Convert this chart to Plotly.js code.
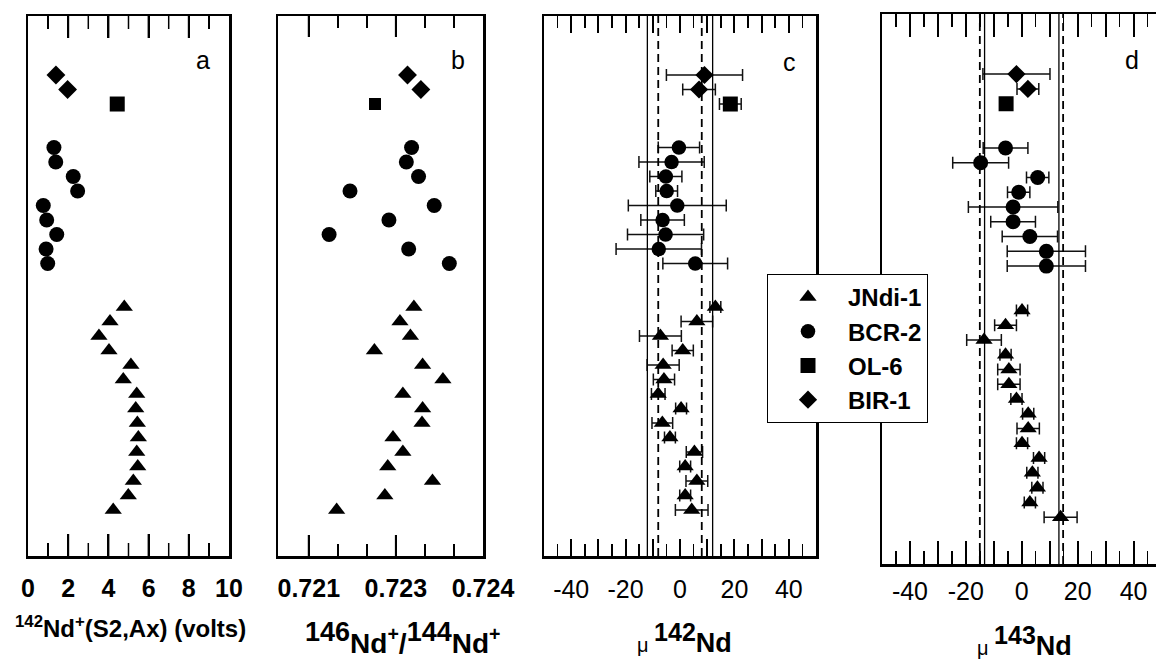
<!DOCTYPE html>
<html><head><meta charset="utf-8">
<script src="https://cdn.plot.ly/plotly-3.0.1.min.js"></script>
<style>html,body{margin:0;padding:0;overflow:hidden;background:#fff;}#chart{width:1164px;height:665px;}</style>
</head><body><div id="chart"></div>
<script>
// ---- data ----
const sampleNames = ['JNdi-1', 'BCR-2', 'OL-6', 'BIR-1'];
const rowsJN  = [16,17,18,19,20,21,22,23,24,25,26,27,28,29,30];
const rowsBCR = [5,6,7,8,9,10,11,12,13];
const rowsOL  = [2];
const rowsBIR = [0,1];

// panel a: 142Nd+ (S2,Ax) volts
const aJN  = [4.79,4.08,3.53,4.03,5.12,4.74,5.41,5.36,5.44,5.49,5.41,5.46,5.24,4.99,4.24];
const aBCR = [1.29,1.38,2.25,2.47,0.76,0.93,1.43,0.90,0.98];
const aOL  = [4.44];
const aBIR = [1.39,1.97];

// panel b: 146Nd+/144Nd+
const bJN  = [0.72281,0.72257,0.72275,0.72213,0.72296,0.72331,0.72262,0.72296,0.72295,0.72245,0.72262,0.72236,0.72313,0.72231,0.72148];
const bBCR = [0.72277,0.72268,0.72289,0.72171,0.72316,0.72238,0.72135,0.72272,0.72342];
const bOL  = [0.72214];
const bBIR = [0.72270,0.72293];

// panel c: mu 142Nd
const cJN     = [13,6.2,-7.2,1,-6.2,-5.9,-8,0.4,-6.5,-3.7,5.3,1.9,6.2,1.9,4.3];
const cJNerr  = [2,5.8,7.7,3.9,5.9,3.9,2.5,2,3.8,2,3,2,4,2,6];
const cBCR    = [-0.4,-3.1,-5.2,-4.9,-1,-6.4,-5.3,-7.8,5.6];
const cBCRerr = [7.6,12,5.9,4,18,8,14,15.7,11.9];
const cOL     = [18.5];
const cOLerr  = [4];
const cBIR    = [9.0,7.0];
const cBIRerr = [14,6];
const cSolid  = [-12, 12];
const cDashed = [-8, 8];

// panel d: mu 143Nd
const dJN     = [0.1,-5.8,-13.5,-5.8,-4.6,-4.6,-1.9,2.3,2.3,0.1,6.2,3.8,5.6,2.9,13.9];
const dJNerr  = [2,3.9,6.2,2,4,4,2,2,4,2,2,2,2,2,5.9];
const dBCR    = [-5.8,-14.7,5.7,-1.1,-3.1,-3.1,2.9,8.8,8.8];
const dBCRerr = [8,10,4,4,16,8,9.9,14,14];
const dOL     = [-5.6];
const dOLerr  = [0];
const dBIR    = [-1.9,2.2];
const dBIRerr = [12,3.9];
const dSolid  = [-13.3, 13.3];
const dDashed = [-15, 14.8];

// ticks and tick labels
const aTicks = [0,2,4,6,8,10];
const aTickText = ['<b>0</b>','<b>2</b>','<b>4</b>','<b>6</b>','<b>8</b>','<b>10</b>'];
const aMinorTicks = [1,3,5,7,9];
const bTickVals = [0.721, 0.7225, 0.724];
const bTickText = ['<b>0.721</b>', '<b>0.723</b>', '<b>0.724</b>'];
const bMinorTicks = [0.7215, 0.722, 0.723, 0.7235];
const muTickVals = [-40,-30,-20,-10,0,10,20,30,40];
const muTickText = ['-40',' ','-20',' ','0',' ','20',' ','40'];

// ---- layout helpers ----
const W = 1164, H = 665;
const FONT = 'Liberation Sans, Arial, Helvetica, sans-serif';
const px = (a, b) => [a / W, b / W];
const py = (t, b) => [1 - b / H, 1 - t / H];
const yRange = [33.17, -4.07];
const symbols = ['triangle-up', 'circle', 'square', 'diamond'];
const rowsAll = [rowsJN, rowsBCR, rowsOL, rowsBIR];

function panelTraces(xs, errArr, sizes, xa, ya, showLegend) {
  return xs.map((vals, i) => {
    const t = {
      type: 'scatter', mode: 'markers', name: sampleNames[i],
      x: vals, y: rowsAll[i], xaxis: xa, yaxis: ya, showlegend: showLegend,
      marker: {symbol: symbols[i], color: '#000', size: sizes[i]}
    };
    if (errArr) t.error_x = {type: 'data', array: errArr[i], visible: true, color: '#111', thickness: 1.5, width: 6};
    return t;
  });
}

const data = [].concat(
  panelTraces([aJN, aBCR, aOL, aBIR], null, [15, 15, 15, 14.5], 'x', 'y', false),
  panelTraces([bJN, bBCR, bOL, bBIR], null, [15, 15, 12, 14.5], 'x2', 'y2', false),
  panelTraces([cJN, cBCR, cOL, cBIR], [cJNerr, cBCRerr, cOLerr, cBIRerr], [15, 14.5, 15, 14], 'x3', 'y3', true),
  panelTraces([dJN, dBCR, dOL, dBIR], [dJNerr, dBCRerr, dOLerr, dBIRerr], [15, 15, 15, 14], 'x4', 'y4', false)
);

function xAxis(domain, anchor, extra) {
  return Object.assign({
    domain: domain, anchor: anchor,
    showline: true, linecolor: '#000', linewidth: 2.5, mirror: 'ticks',
    ticks: 'inside', tickcolor: '#000', tickwidth: 2,
    showgrid: false, zeroline: false, fixedrange: true
  }, extra);
}
function yAxis(domain, anchor) {
  return {domain: domain, anchor: anchor, range: yRange, showline: true, linecolor: '#000', linewidth: 2.5, mirror: true,
    ticks: '', showticklabels: false, showgrid: false, zeroline: false, fixedrange: true};
}
function vline(v, xr, yr, dashed) {
  return {type: 'line', xref: xr, yref: yr + ' domain', x0: v, x1: v, y0: 0, y1: 1,
    line: dashed ? {color: '#000', width: 1.8, dash: '8px,5px'} : {color: '#000', width: 1.3}};
}
// inside tick marks (bottom and top) on an axis, drawn from its tick arrays
function tickMarks(vals, xr, dom, len, width) {
  const out = [];
  vals.forEach(v => {
    out.push({type: 'line', xref: xr, yref: 'paper', x0: v, x1: v, y0: dom[0], y1: dom[0] + len / H, line: {color: '#000', width: width}});
    out.push({type: 'line', xref: xr, yref: 'paper', x0: v, x1: v, y0: dom[1], y1: dom[1] - len / H, line: {color: '#000', width: width}});
  });
  return out;
}
const yDomABC = py(16, 556);
const yDomD = py(14, 564);

const layout = {
  width: W, height: H, margin: {l: 0, r: 0, t: 0, b: 0},
  paper_bgcolor: '#fff', plot_bgcolor: '#fff',
  font: {family: FONT},
  showlegend: true,
  xaxis: xAxis(px(28, 229), 'y', {
    range: [0, 10], tickmode: 'array', tickvals: aTicks, ticktext: aTickText, ticklen: 22,
    tickfont: {size: 25, color: '#000'}, ticklabelstandoff: 8,
    minor: {tickmode: 'array', tickvals: aMinorTicks, ticks: 'inside', ticklen: 13, tickwidth: 1.5, tickcolor: '#000'}
  }),
  yaxis: yAxis(yDomABC, 'x'),
  xaxis2: xAxis(px(278, 483), 'y2', {
    range: [0.72047, 0.7240], tickmode: 'array', tickvals: bTickVals, ticktext: bTickText, ticklen: 21,
    tickfont: {size: 25, color: '#000'}, ticklabelstandoff: 8,
    minor: {tickmode: 'array', tickvals: bMinorTicks, ticks: 'inside', ticklen: 12, tickwidth: 1.5, tickcolor: '#000'}
  }),
  yaxis2: yAxis(yDomABC, 'x2'),
  xaxis3: xAxis(px(544, 816), 'y3', {
    range: [-50, 50], tickmode: 'array', tickvals: muTickVals, ticktext: muTickText, ticklen: 17,
    tickfont: {size: 25, color: '#000'}, ticklabelstandoff: 9,
    minor: {tickmode: 'linear', tick0: -45, dtick: 10, ticks: 'inside', ticklen: 12, tickwidth: 1.5, tickcolor: '#000'}
  }),
  yaxis3: yAxis(yDomABC, 'x3'),
  xaxis4: xAxis(px(882, 1161.5), 'y4', {
    range: [-50, 50], tickmode: 'array', tickvals: muTickVals, ticktext: muTickText, ticklen: 23,
    tickfont: {size: 25, color: '#000'}, ticklabelstandoff: 3,
    minor: {tickmode: 'linear', tick0: -45, dtick: 10, ticks: 'inside', ticklen: 13, tickwidth: 1.5, tickcolor: '#000'}
  }),
  yaxis4: yAxis(yDomD, 'x4'),
  legend: {
    x: 767 / W, y: 1 - 274 / H, xanchor: 'left', yanchor: 'top',
    bgcolor: '#fff', bordercolor: '#000', borderwidth: 1,
    font: {family: FONT, size: 24, weight: 'bold', color: '#000'},
    itemwidth: 70, traceorder: 'normal'
  },
  shapes: [].concat(
    cSolid.map(v => vline(v, 'x3', 'y3', false)),
    cDashed.map(v => vline(v, 'x3', 'y3', true)),
    dSolid.map(v => vline(v, 'x4', 'y4', false)),
    dDashed.map(v => vline(v, 'x4', 'y4', true)),
    tickMarks(aTicks.slice(1, -1), 'x', yDomABC, 22, 2),
    tickMarks(aMinorTicks, 'x', yDomABC, 13, 1.5),
    tickMarks(bTickVals.slice(0, -1), 'x2', yDomABC, 21, 2),
    tickMarks(bMinorTicks, 'x2', yDomABC, 12, 1.5)
  ),
  annotations: [
    {text: 'a', x: 203 / W, y: 1 - 60 / H},
    {text: 'b', x: 458 / W, y: 1 - 60 / H},
    {text: 'c', x: 789 / W, y: 1 - 62 / H},
    {text: 'd', x: 1132 / W, y: 1 - 60 / H},
  ].map(a => Object.assign({xref: 'paper', yref: 'paper', showarrow: false, xanchor: 'center', yanchor: 'middle', font: {size: 25, family: FONT, color: '#000'}}, a)).concat([
    {text: '<b><sup>142</sup>Nd<sup>+</sup>(S2,Ax) (volts)</b>', x: 130 / W, y: 1 - 627 / H, font: {size: 24, family: FONT, color: '#000'}},
    {text: '<b><sup><span style="font-size:27px">146</span></sup>Nd<sup>+</sup>/<sup><span style="font-size:27px">144</span></sup>Nd<sup>+</sup></b>', x: 402 / W, y: 1 - 638 / H, font: {size: 28, family: FONT, color: '#000'}},
    {text: '<span style="font-size:20px">μ </span><b><sup><span style="font-size:25px">142</span></sup>Nd</b>', x: 684 / W, y: 1 - 638 / H, font: {size: 27, family: FONT, color: '#000'}},
    {text: '<span style="font-size:20px">μ </span><b><sup><span style="font-size:25px">143</span></sup>Nd</b>', x: 1024 / W, y: 1 - 641 / H, font: {size: 27, family: FONT, color: '#000'}}
  ].map(a => Object.assign({xref: 'paper', yref: 'paper', showarrow: false, xanchor: 'center', yanchor: 'middle'}, a)))
};

Plotly.newPlot('chart', data, layout, {displayModeBar: false, staticPlot: true});
</script></body></html>
